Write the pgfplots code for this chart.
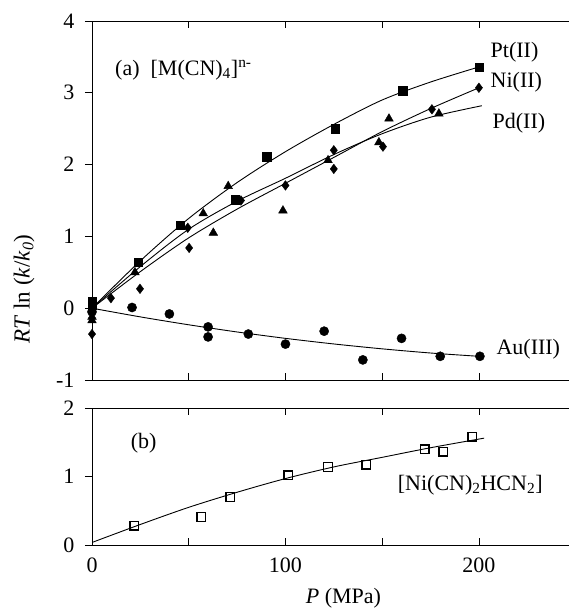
\documentclass[border=0pt]{standalone}
\usepackage{fontspec}
\setmainfont{Liberation Serif}
\usepackage{pgfplots}
\pgfplotsset{compat=1.18}
\pgfplotsset{
  common/.style={
    scale only axis, width=503pt,
    xmin=0, xmax=260,
    xtick={0,50,...,250},
    xtick pos=both, ytick pos=left,
    xtick align=inside, ytick align=outside,
    major tick length=7pt,
    minor tick num=0,
    tick style={black, line width=0.8pt},
    axis line style={black, line width=1pt},
    /pgf/number format/assume math mode=true,
    tick label style={font=\fontsize{22}{25}\selectfont},
    yticklabel style={xshift=-7pt},
    xticklabel style={yshift=-9pt},
    clip=false,
  },
  fitline/.style={black, line width=0.9pt, no markers, smooth, tension=0.5},
}
\begin{document}
\begin{tikzpicture}[font=\fontsize{22}{25}\selectfont]
\path[use as bounding box] (0pt,0pt) rectangle (569pt,-612pt);
% ---------- panel (a)
\begin{axis}[common,
  at={(92pt,-380pt)}, anchor=south west,
  height=359pt,
  ymin=-1, ymax=4, ytick={-1,0,...,4},
  xticklabels={},
]
% fitted curves
\addplot[fitline] coordinates {(0,0) (25,0.66) (50,1.25) (75,1.75) (100,2.18) (125,2.56) (150,2.90) (175,3.15) (200,3.36)};
\addplot[fitline] coordinates {(0,0) (25,0.51) (50,0.98) (75,1.38) (100,1.74) (125,2.10) (150,2.46) (175,2.78) (200,3.07)};
\addplot[fitline] coordinates {(0,0) (25,0.58) (50,1.10) (75,1.49) (100,1.81) (125,2.14) (150,2.43) (175,2.66) (201.5,2.82)};
\addplot[fitline] coordinates {(0,0) (25,-0.121) (50,-0.231) (75,-0.331) (100,-0.42) (125,-0.498) (150,-0.566) (175,-0.624) (200,-0.67)};
% Pt(II)
\addplot[only marks, mark=square*, mark size=4.2pt, black] coordinates {
(0,0.05) (0,0.09) (23.9,0.64) (45.5,1.16) (73.9,1.51) (90.4,2.11) (125.6,2.50) (160.7,3.03) (200,3.36)};
% Ni(II)
\addplot[only marks, mark=diamond*, mark size=4.8pt, black] coordinates {
(0,-0.36) (0,0.0) (9.8,0.14) (24.8,0.27) (49.5,1.12) (50.2,0.84) (77,1.50) (100,1.71) (125,2.20) (125,1.94) (150.4,2.25) (175.7,2.77) (200,3.07)};
% Pd(II)
\addplot[only marks, mark=triangle*, mark size=5pt, black] coordinates {
(0,-0.12) (0,-0.17) (22.2,0.50) (57.5,1.32) (62.7,1.05) (70.4,1.70) (98.7,1.36) (122,2.06) (148.3,2.31) (153.5,2.64) (179.3,2.71)};
% Au(III)
\addplot[only marks, mark=*, mark size=4.6pt, black] coordinates {
(0,-0.05) (20.7,0.01) (40,-0.08) (60,-0.26) (60,-0.40) (80.8,-0.36) (100,-0.50) (120,-0.32) (140,-0.72) (160,-0.42) (180,-0.67) (200.5,-0.67)};
\node[anchor=west, inner sep=0pt] at (axis cs:11.9,3.32) {(a)\ \ [M(CN)\textsubscript{4}]\textsuperscript{n-}};
\node[anchor=west, inner sep=0pt] at (axis cs:206,3.57) {Pt(II)};
\node[anchor=west, inner sep=0pt] at (axis cs:206,3.15) {Ni(II)};
\node[anchor=west, inner sep=0pt] at (axis cs:207,2.58) {Pd(II)};
\node[anchor=west, inner sep=0pt] at (axis cs:209,-0.57) {Au(III)};
\end{axis}
% ---------- panel (b)
\begin{axis}[common,
  at={(92pt,-545pt)}, anchor=south west,
  height=137pt,
  ymin=0, ymax=2, ytick={0,1,2},
  xticklabels={0,,100,,200,},
  xlabel={\textit{P} (MPa)},
  xlabel style={yshift=-9pt},
]
\addplot[fitline] coordinates {(0.3,0.04) (25,0.30) (50,0.55) (75,0.77) (100,0.97) (125,1.14) (150,1.28) (175,1.42) (202.7,1.56)};
\addplot[only marks, mark=square, mark size=4.3pt, black, line width=1.4pt] coordinates {
(21.9,0.28) (56.5,0.41) (71.5,0.70) (101.5,1.02) (122,1.14) (141.8,1.17) (171.9,1.40) (181.5,1.36) (196.6,1.58)};
\node[anchor=west, inner sep=0pt] at (axis cs:20,1.49) {(b)};
\node[anchor=west, inner sep=0pt] at (axis cs:158,0.88) {[Ni(CN)\textsubscript{2}HCN\textsubscript{2}]};
\end{axis}
\node[rotate=90, font=\fontsize{23}{26}\selectfont] at (24pt,-289pt) {\textit{RT} ln (\textit{k}/\textit{k}\textsubscript{\textit{0}})};
\end{tikzpicture}
\end{document}
